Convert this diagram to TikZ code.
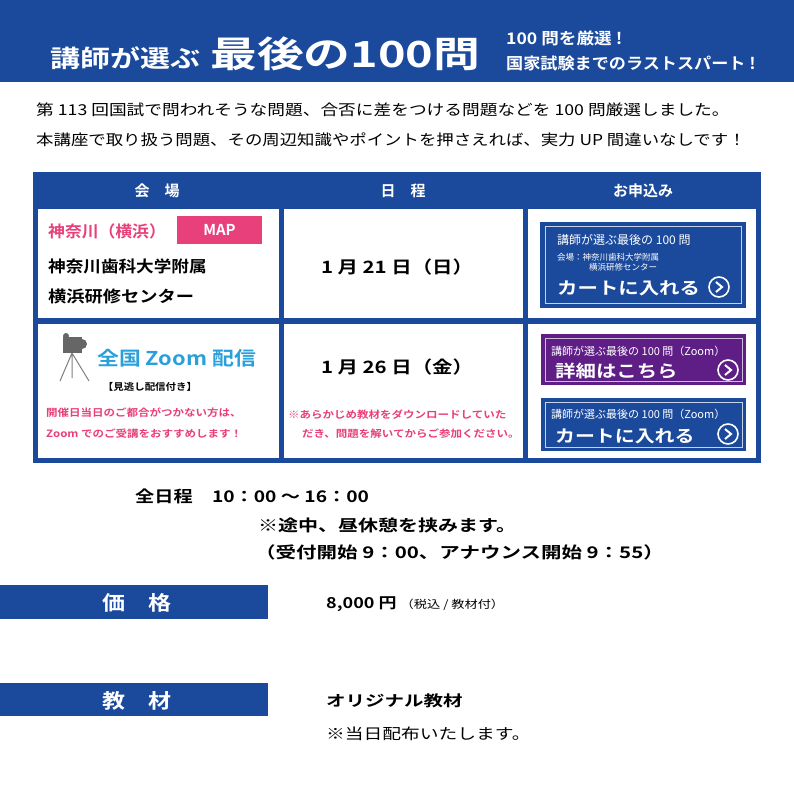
\documentclass[tikz,border=0pt]{standalone}
\usepackage{fontspec}
\setmainfont{Noto Sans CJK JP}[BoldFont={Noto Sans CJK JP Bold}]
\definecolor{mblue}{HTML}{1B4A9C}
\definecolor{mpink}{HTML}{E8407A}
\definecolor{mcyan}{HTML}{2AA0DA}
\definecolor{mpurple}{HTML}{5E1E86}
\newcommand\hs[2]{\scalebox{#1}[1]{#2}}
\begin{document}
\begin{tikzpicture}[x=1pt,y=-1pt,
  tx/.style={anchor=base west,inner sep=0pt},
  tc/.style={anchor=base,inner sep=0pt},
  btn/.style={draw=white!75!mblue,line width=1pt},
  go/.pic={\draw[white,line width=1.6pt] (0,0) circle (10);
           \draw[white,line width=2pt] (-3,-5) -- (3,0) -- (-3,5);}]
\useasboundingbox (0,0) rectangle (794,786);
\fill[white] (0,0) rectangle (794,786);
% header
\fill[mblue] (0,0) rectangle (794,82);
\node[tx,white,font=\bfseries\fontsize{24}{24}\selectfont] (t1) at (50,68) {\hs{1.25}{講師が選ぶ}};
\node[tx,white,font=\bfseries\fontsize{36}{36}\selectfont] (t2) at (210,68) {\hs{1.3}{最後の100問}};
\node[tx,white,font=\bfseries\fontsize{16}{16}\selectfont] (t3) at (506,45) {\hs{1.1}{100 問を厳選 !}};
\node[tx,white,font=\bfseries\fontsize{16}{16}\selectfont] (t4) at (506,70) {\hs{1.07}{国家試験までのラストスパート !}};
% intro
\node[tx,font=\fontsize{15}{15}\selectfont] (p1) at (36,116) {\hs{1.18}{第 113 回国試で問われそうな問題、合否に差をつける問題などを 100 問厳選しました。}};
\node[tx,font=\fontsize{15}{15}\selectfont] (p2) at (36,146) {\hs{1.16}{本講座で取り扱う問題、その周辺知識やポイントを押さえれば、実力 UP 間違いなしです！}};
% table
\fill[mblue] (33,172) rectangle (761,463);
\fill[white] (38,209) rectangle (279,318);
\fill[white] (284,209) rectangle (523,318);
\fill[white] (528,209) rectangle (756,318);
\fill[white] (38,324) rectangle (279,458);
\fill[white] (284,324) rectangle (523,458);
\fill[white] (528,324) rectangle (756,458);
\node[tc,white,font=\bfseries\fontsize{15}{15}\selectfont] (h1) at (157,197) {会\quad 場};
\node[tc,white,font=\bfseries\fontsize{15}{15}\selectfont] (h2) at (403,197) {日\quad 程};
\node[tc,white,font=\bfseries\fontsize{15}{15}\selectfont] (h3) at (643,197) {お申込み};
% row 1
\node[tx,mpink,font=\bfseries\fontsize{16}{16}\selectfont] (v1) at (48,237) {\hs{1.05}{神奈川（横浜）}};
\fill[mpink] (177,216) rectangle (262,244);
\node[tc,white,font=\bfseries\fontsize{15}{15}\selectfont] (map) at (219.5,236) {MAP};
\node[tx,font=\bfseries\fontsize{16}{16}\selectfont] (v2) at (48,272) {\hs{1.1}{神奈川歯科大学附属}};
\node[tx,font=\bfseries\fontsize{16}{16}\selectfont] (v3) at (48,302) {\hs{1.14}{横浜研修センター}};
\node[tc,font=\bfseries\fontsize{17}{17}\selectfont] (d1) at (397,273) {\hs{1.2}{1 月 21 日（日）}};
\fill[mblue] (540,222) rectangle (746,308);
\draw[btn] (545,227) rectangle (741,303);
\node[tx,white,font=\fontsize{12}{12}\selectfont] (b1a) at (557,244) {講師が選ぶ最後の 100 問};
\node[tx,white,font=\fontsize{8.5}{8.5}\selectfont] (b1b) at (557,260) {会場：神奈川歯科大学附属};
\node[tx,white,font=\fontsize{8.5}{8.5}\selectfont] (b1c) at (589,270) {横浜研修センター};
\node[tx,white,font=\bfseries\fontsize{17}{17}\selectfont] (b1d) at (557,294) {\hs{1.2}{カートに入れる}};
\pic at (719,287) {go};
% row 2 camera
\fill[gray!80!black] (63,337) rectangle (82,353);
\fill[gray!80!black] (82,344) circle (5);
\fill[gray!80!black] (66,336) circle (3);
\draw[gray,line width=1pt] (72,353) -- (60,381) (72,353) -- (72,378) (72,353) -- (89,381);
\node[tx,mcyan,font=\bfseries\fontsize{19}{19}\selectfont] (z1) at (97,365) {\hs{1.15}{全国 Zoom 配信}};
\node[tc,font=\bfseries\fontsize{9.5}{9.5}\selectfont] (z2) at (150,390) {\hs{1.1}{【見逃し配信付き】}};
\node[tx,mpink,font=\bfseries\fontsize{10}{10}\selectfont] (z3) at (46,416) {\hs{1.15}{開催日当日のご都合がつかない方は、}};
\node[tx,mpink,font=\bfseries\fontsize{10}{10}\selectfont] (z4) at (46,437) {\hs{1.15}{Zoom でのご受講をおすすめします！}};
\node[tc,font=\bfseries\fontsize{17}{17}\selectfont] (d2) at (397,373) {\hs{1.2}{1 月 26 日（金）}};
\node[tx,mpink,font=\bfseries\fontsize{10}{10}\selectfont] (n1) at (288,418) {\hs{1.15}{※あらかじめ教材をダウンロードしていた}};
\node[tx,mpink,font=\bfseries\fontsize{10}{10}\selectfont] (n2) at (302,437) {\hs{1.15}{だき、問題を解いてからご参加ください。}};
\fill[mpurple] (541,334) rectangle (746,385);
\draw[btn,draw=white!70!mpurple] (545,338) rectangle (742,381);
\node[tx,white,font=\fontsize{11}{11}\selectfont] (b2a) at (551,355) {講師が選ぶ最後の 100 問（Zoom）};
\node[tx,white,font=\bfseries\fontsize{17}{17}\selectfont] (b2b) at (555,377) {\hs{1.2}{詳細はこちら}};
\pic at (728,370) {go};
\fill[mblue] (541,398) rectangle (746,451);
\draw[btn] (545,402) rectangle (742,447);
\node[tx,white,font=\fontsize{11}{11}\selectfont] (b3a) at (551,418) {講師が選ぶ最後の 100 問（Zoom）};
\node[tx,white,font=\bfseries\fontsize{17}{17}\selectfont] (b3b) at (555,442) {\hs{1.17}{カートに入れる}};
\pic at (728,434) {go};
% schedule
\node[tx,font=\bfseries\fontsize{16}{16}\selectfont] (s1) at (135,502) {\hs{1.2}{全日程\quad 10：00 ～ 16：00}};
\node[tx,font=\bfseries\fontsize{16}{16}\selectfont] (s2) at (258,531) {\hs{1.25}{※途中、昼休憩を挟みます。}};
\node[tx,font=\bfseries\fontsize{16}{16}\selectfont] (s3) at (255,558) {\hs{1.28}{（受付開始 9：00、アナウンス開始 9：55）}};
% price
\fill[mblue] (0,585) rectangle (268,619);
\node[tc,white,font=\bfseries\fontsize{20}{20}\selectfont] (pr) at (137,610) {\hs{1.15}{価\quad 格}};
\node[tx,font=\bfseries\fontsize{15}{15}\selectfont] (pv) at (326,608) {\hs{1.2}{8,000 円 {\mdseries\fontsize{11}{11}\selectfont （税込 / 教材付）}}};
% material
\fill[mblue] (0,683) rectangle (268,716);
\node[tc,white,font=\bfseries\fontsize{20}{20}\selectfont] (mt) at (137,708) {\hs{1.15}{教\quad 材}};
\node[tx,font=\bfseries\fontsize{15}{15}\selectfont] (m1) at (326,706) {\hs{1.3}{オリジナル教材}};
\node[tx,font=\fontsize{15}{15}\selectfont] (m2) at (326,739) {\hs{1.25}{※当日配布いたします。}};
\end{tikzpicture}
\end{document}
